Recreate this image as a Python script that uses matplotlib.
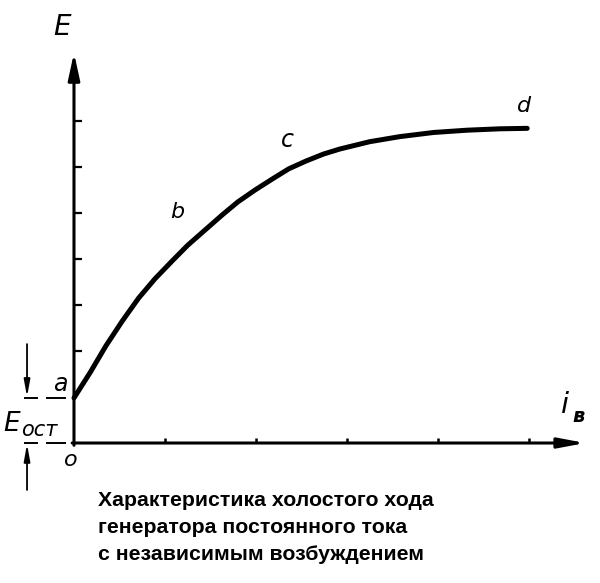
import matplotlib
matplotlib.use("Agg")
import matplotlib.pyplot as plt

# Data (in tick units)
curve_x = [0.0, 0.18, 0.35, 0.53, 0.71, 0.89, 1.08, 1.25, 1.44, 1.63, 1.80, 1.99, 2.18,
           2.36, 2.55, 2.74, 2.92, 3.25, 3.58, 3.95, 4.32, 4.68, 4.98]
curve_y = [0.98, 1.54, 2.11, 2.65, 3.15, 3.57, 3.96, 4.30, 4.63, 4.96, 5.24, 5.50, 5.74,
           5.96, 6.13, 6.28, 6.39, 6.55, 6.66, 6.75, 6.80, 6.83, 6.84]
y_ticks = [2, 3, 4, 5, 6, 7]
x_ticks = [1, 2, 3, 4, 5]
point_labels = ["a", "b", "c", "d"]
point_label_x = [-0.15, 1.13, 2.34, 4.95]
point_label_y = [1.28, 5.02, 6.59, 7.33]
title_lines = ["Характеристика холостого хода",
               "генератора постоянного тока",
               "с независимым возбуждением"]

fig = plt.figure(figsize=(6.0, 5.83), dpi=100)
ax = fig.add_axes([0, 0, 1, 1])
ax.set_xlim(-0.813, 5.780)
ax.set_ylim(-3.043, 9.630)
ax.axis("off")

lw_axis = 2.2
ax.annotate("", xy=(0, 8.48), xytext=(0, -0.05),
            arrowprops=dict(arrowstyle="-|>,head_length=1.6,head_width=0.35",
                            lw=lw_axis, color="black", shrinkA=0, shrinkB=0))
ax.annotate("", xy=(5.62, 0), xytext=(-0.02, 0),
            arrowprops=dict(arrowstyle="-|>,head_length=1.6,head_width=0.3",
                            lw=lw_axis, color="black", shrinkA=0, shrinkB=0))

for t in y_ticks:
    ax.plot([0, 0.09], [t, t], color="black", lw=1.6, solid_capstyle="butt")
for t in x_ticks:
    ax.plot([t, t], [0, 0.1], color="black", lw=1.8, solid_capstyle="butt")

ax.plot(curve_x, curve_y, color="black", lw=3.6, solid_capstyle="round", solid_joinstyle="round")

ital = dict(style="italic", family="DejaVu Sans", color="black")
label_sizes = [17, 16, 17, 16]
for lab, lx, ly, fs in zip(point_labels, point_label_x, point_label_y, label_sizes):
    ax.text(lx, ly, lab, fontsize=fs, ha="center", va="center", **ital)

ax.text(-0.13, 9.05, "E", fontsize=20, ha="center", va="center", **ital)
ax.text(5.40, 0.83, "i", fontsize=21, ha="center", va="center", **ital)
ax.text(5.54, 0.57, "в", fontsize=14, ha="center", va="center", fontweight="bold", **ital)
ax.text(-0.68, 0.41, "E", fontsize=19, ha="center", va="center", **ital)
ax.text(-0.38, 0.28, "ост", fontsize=15, ha="center", va="center", **ital)
ax.text(-0.03, -0.37, "o", fontsize=16, ha="center", va="center", **ital)

e_ost = curve_y[0]
for yy in (e_ost, 0.0):
    ax.plot([-0.538, -0.406], [yy, yy], color="black", lw=1.4)
    ax.plot([-0.296, -0.10], [yy, yy], color="black", lw=1.4)

ax.annotate("", xy=(-0.516, e_ost + 0.02), xytext=(-0.516, e_ost + 1.17),
            arrowprops=dict(arrowstyle="-|>,head_length=1.0,head_width=0.18",
                            lw=1.3, color="black", shrinkA=0, shrinkB=0))
ax.annotate("", xy=(-0.516, -0.02), xytext=(-0.516, -1.02),
            arrowprops=dict(arrowstyle="-|>,head_length=1.0,head_width=0.18",
                            lw=1.3, color="black", shrinkA=0, shrinkB=0))

title_y = [-1.24, -1.83, -2.43]
for line, ty in zip(title_lines, title_y):
    ax.text(0.264, ty, line, fontsize=15.3, fontweight="bold",
            family="Liberation Sans", ha="left", va="center", color="black")

fig.savefig("out.png", dpi=100, facecolor="white")
